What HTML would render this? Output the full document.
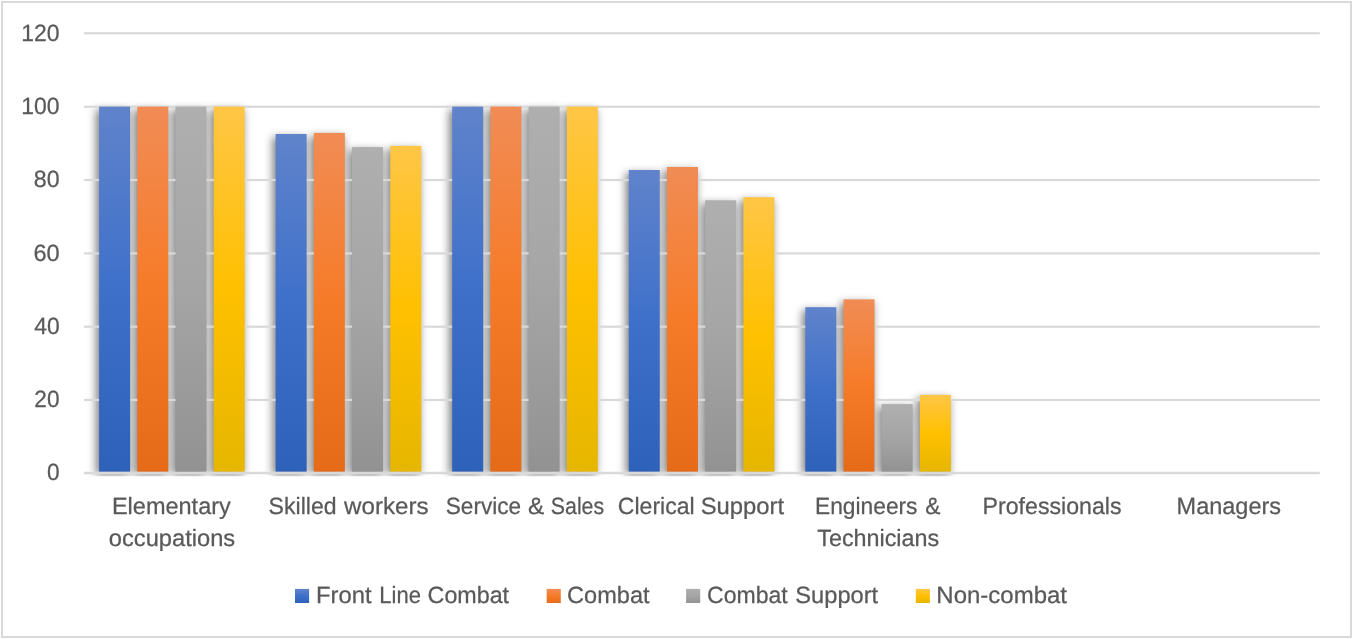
<!DOCTYPE html>
<html><head><meta charset="utf-8"><title>Chart</title>
<style>html,body{margin:0;padding:0;background:#fff;}body{width:1353px;height:639px;overflow:hidden;font-family:"Liberation Sans",sans-serif;}svg{display:block;will-change:transform;}text{font-family:"Liberation Sans",sans-serif;fill:#595959;stroke:#595959;stroke-width:0.25px;stroke-linejoin:round;text-rendering:geometricPrecision;}</style></head><body>
<svg width="1353" height="639" viewBox="0 0 1353 639">
<defs>
<linearGradient id="gb" x1="0" y1="0" x2="0" y2="1"><stop offset="0" stop-color="#6083cb"/><stop offset="0.5" stop-color="#3e70ca"/><stop offset="1" stop-color="#2e61ba"/></linearGradient>
<linearGradient id="go" x1="0" y1="0" x2="0" y2="1"><stop offset="0" stop-color="#f18c55"/><stop offset="0.5" stop-color="#f67b28"/><stop offset="1" stop-color="#e56b18"/></linearGradient>
<linearGradient id="gg" x1="0" y1="0" x2="0" y2="1"><stop offset="0" stop-color="#afafaf"/><stop offset="0.5" stop-color="#a5a5a5"/><stop offset="1" stop-color="#929292"/></linearGradient>
<linearGradient id="gy" x1="0" y1="0" x2="0" y2="1"><stop offset="0" stop-color="#ffc646"/><stop offset="0.5" stop-color="#ffc000"/><stop offset="1" stop-color="#e6b600"/></linearGradient>
<filter id="sh" filterUnits="userSpaceOnUse" x="60" y="60" width="1280" height="440" color-interpolation-filters="sRGB"><feGaussianBlur stdDeviation="4.5"/></filter>
<clipPath id="cp"><rect x="84" y="20" width="1236" height="456.3"/></clipPath>
</defs>
<rect x="0" y="0" width="1353" height="639" fill="#fff"/>
<rect x="2" y="2" width="1349" height="635" fill="none" stroke="#d9d9d9" stroke-width="2"/>
<g clip-path="url(#cp)">
<rect x="96.10" y="109.60" width="32.50" height="365.20" fill="#000" fill-opacity="0.5" filter="url(#sh)"/>
<rect x="134.30" y="109.60" width="32.50" height="365.20" fill="#000" fill-opacity="0.5" filter="url(#sh)"/>
<rect x="172.50" y="109.60" width="32.50" height="365.20" fill="#000" fill-opacity="0.5" filter="url(#sh)"/>
<rect x="210.70" y="109.60" width="32.50" height="365.20" fill="#000" fill-opacity="0.5" filter="url(#sh)"/>
<rect x="272.65" y="137.00" width="32.50" height="337.80" fill="#000" fill-opacity="0.5" filter="url(#sh)"/>
<rect x="310.85" y="135.90" width="32.50" height="338.90" fill="#000" fill-opacity="0.5" filter="url(#sh)"/>
<rect x="349.05" y="150.10" width="32.50" height="324.70" fill="#000" fill-opacity="0.5" filter="url(#sh)"/>
<rect x="387.25" y="148.90" width="32.50" height="325.90" fill="#000" fill-opacity="0.5" filter="url(#sh)"/>
<rect x="449.20" y="109.60" width="32.50" height="365.20" fill="#000" fill-opacity="0.5" filter="url(#sh)"/>
<rect x="487.40" y="109.60" width="32.50" height="365.20" fill="#000" fill-opacity="0.5" filter="url(#sh)"/>
<rect x="525.60" y="109.60" width="32.50" height="365.20" fill="#000" fill-opacity="0.5" filter="url(#sh)"/>
<rect x="563.80" y="109.60" width="32.50" height="365.20" fill="#000" fill-opacity="0.5" filter="url(#sh)"/>
<rect x="625.75" y="173.00" width="32.50" height="301.80" fill="#000" fill-opacity="0.5" filter="url(#sh)"/>
<rect x="663.95" y="170.00" width="32.50" height="304.80" fill="#000" fill-opacity="0.5" filter="url(#sh)"/>
<rect x="702.15" y="203.30" width="32.50" height="271.50" fill="#000" fill-opacity="0.5" filter="url(#sh)"/>
<rect x="740.35" y="200.20" width="32.50" height="274.60" fill="#000" fill-opacity="0.5" filter="url(#sh)"/>
<rect x="802.30" y="310.20" width="32.50" height="164.60" fill="#000" fill-opacity="0.5" filter="url(#sh)"/>
<rect x="840.50" y="302.40" width="32.50" height="172.40" fill="#000" fill-opacity="0.5" filter="url(#sh)"/>
<rect x="878.70" y="407.10" width="32.50" height="67.70" fill="#000" fill-opacity="0.5" filter="url(#sh)"/>
<rect x="916.90" y="397.90" width="32.50" height="76.90" fill="#000" fill-opacity="0.5" filter="url(#sh)"/>
</g>
<rect x="84" y="32.20" width="1235.8" height="2.2" fill="#d9d9d9"/>
<rect x="84" y="105.65" width="1235.8" height="2.2" fill="#d9d9d9"/>
<rect x="84" y="178.95" width="1235.8" height="2.2" fill="#d9d9d9"/>
<rect x="84" y="252.30" width="1235.8" height="2.2" fill="#d9d9d9"/>
<rect x="84" y="325.60" width="1235.8" height="2.2" fill="#d9d9d9"/>
<rect x="84" y="398.85" width="1235.8" height="2.2" fill="#d9d9d9"/>
<rect x="99.10" y="106.60" width="31.00" height="365.20" fill="url(#gb)"/>
<rect x="137.30" y="106.60" width="31.00" height="365.20" fill="url(#go)"/>
<rect x="175.50" y="106.60" width="31.00" height="365.20" fill="url(#gg)"/>
<rect x="213.70" y="106.60" width="31.00" height="365.20" fill="url(#gy)"/>
<rect x="275.65" y="134.00" width="31.00" height="337.80" fill="url(#gb)"/>
<rect x="313.85" y="132.90" width="31.00" height="338.90" fill="url(#go)"/>
<rect x="352.05" y="147.10" width="31.00" height="324.70" fill="url(#gg)"/>
<rect x="390.25" y="145.90" width="31.00" height="325.90" fill="url(#gy)"/>
<rect x="452.20" y="106.60" width="31.00" height="365.20" fill="url(#gb)"/>
<rect x="490.40" y="106.60" width="31.00" height="365.20" fill="url(#go)"/>
<rect x="528.60" y="106.60" width="31.00" height="365.20" fill="url(#gg)"/>
<rect x="566.80" y="106.60" width="31.00" height="365.20" fill="url(#gy)"/>
<rect x="628.75" y="170.00" width="31.00" height="301.80" fill="url(#gb)"/>
<rect x="666.95" y="167.00" width="31.00" height="304.80" fill="url(#go)"/>
<rect x="705.15" y="200.30" width="31.00" height="271.50" fill="url(#gg)"/>
<rect x="743.35" y="197.20" width="31.00" height="274.60" fill="url(#gy)"/>
<rect x="805.30" y="307.20" width="31.00" height="164.60" fill="url(#gb)"/>
<rect x="843.50" y="299.40" width="31.00" height="172.40" fill="url(#go)"/>
<rect x="881.70" y="404.10" width="31.00" height="67.70" fill="url(#gg)"/>
<rect x="919.90" y="394.90" width="31.00" height="76.90" fill="url(#gy)"/>
<rect x="84" y="471.75" width="1235.8" height="2.5" fill="#d9d9d9"/>
<rect x="295.00" y="588.9" width="14.1" height="14.1" fill="url(#gb)"/>
<rect x="546.70" y="588.9" width="14.1" height="14.1" fill="url(#go)"/>
<rect x="686.10" y="588.9" width="14.1" height="14.1" fill="url(#gg)"/>
<rect x="915.80" y="588.9" width="14.1" height="14.1" fill="url(#gy)"/>
<text x="21.22" y="41.00" font-size="23.6" textLength="38.30" lengthAdjust="spacingAndGlyphs">120</text>
<text x="21.22" y="114.00" font-size="23.6" textLength="38.30" lengthAdjust="spacingAndGlyphs">100</text>
<text x="33.85" y="187.00" font-size="23.6" textLength="25.70" lengthAdjust="spacingAndGlyphs">80</text>
<text x="33.39" y="261.00" font-size="23.6" textLength="26.21" lengthAdjust="spacingAndGlyphs">60</text>
<text x="34.19" y="334.00" font-size="23.6" textLength="25.40" lengthAdjust="spacingAndGlyphs">40</text>
<text x="34.34" y="407.00" font-size="23.6" textLength="25.15" lengthAdjust="spacingAndGlyphs">20</text>
<text x="46.90" y="480.00" font-size="23.6" textLength="12.58" lengthAdjust="spacingAndGlyphs">0</text>
<text x="111.91" y="513.70" font-size="23.5" textLength="118.91" lengthAdjust="spacingAndGlyphs">Elementary</text>
<text x="108.88" y="545.60" font-size="23.5" textLength="126.31" lengthAdjust="spacingAndGlyphs">occupations</text>
<text x="268.62" y="513.70" font-size="23.5" textLength="67.93" lengthAdjust="spacingAndGlyphs">Skilled</text>
<text x="344.10" y="513.70" font-size="23.5" textLength="84.54" lengthAdjust="spacingAndGlyphs">workers</text>
<text x="445.77" y="513.70" font-size="23.5" textLength="75.32" lengthAdjust="spacingAndGlyphs">Service</text>
<text x="528.06" y="513.70" font-size="23.5" textLength="16.23" lengthAdjust="spacingAndGlyphs">&amp;</text>
<text x="550.84" y="513.70" font-size="23.5" textLength="53.28" lengthAdjust="spacingAndGlyphs">Sales</text>
<text x="617.84" y="513.70" font-size="23.5" textLength="76.78" lengthAdjust="spacingAndGlyphs">Clerical</text>
<text x="700.66" y="513.70" font-size="23.5" textLength="83.45" lengthAdjust="spacingAndGlyphs">Support</text>
<text x="814.98" y="513.70" font-size="23.5" textLength="102.55" lengthAdjust="spacingAndGlyphs">Engineers</text>
<text x="925.33" y="513.70" font-size="23.5" textLength="15.18" lengthAdjust="spacingAndGlyphs">&amp;</text>
<text x="817.28" y="545.60" font-size="23.5" textLength="121.91" lengthAdjust="spacingAndGlyphs">Technicians</text>
<text x="982.58" y="513.70" font-size="23.5" textLength="138.89" lengthAdjust="spacingAndGlyphs">Professionals</text>
<text x="1176.62" y="513.70" font-size="23.5" textLength="104.39" lengthAdjust="spacingAndGlyphs">Managers</text>
<text x="316.03" y="602.80" font-size="23.5" textLength="55.57" lengthAdjust="spacingAndGlyphs">Front</text>
<text x="379.35" y="602.80" font-size="23.5" textLength="41.62" lengthAdjust="spacingAndGlyphs">Line</text>
<text x="427.59" y="602.80" font-size="23.5" textLength="81.46" lengthAdjust="spacingAndGlyphs">Combat</text>
<text x="567.10" y="602.80" font-size="23.5" textLength="82.49" lengthAdjust="spacingAndGlyphs">Combat</text>
<text x="707.03" y="602.80" font-size="23.5" textLength="80.70" lengthAdjust="spacingAndGlyphs">Combat</text>
<text x="795.31" y="602.80" font-size="23.5" textLength="82.90" lengthAdjust="spacingAndGlyphs">Support</text>
<text x="936.37" y="602.80" font-size="23.5" textLength="130.64" lengthAdjust="spacingAndGlyphs">Non-combat</text>
</svg></body></html>
